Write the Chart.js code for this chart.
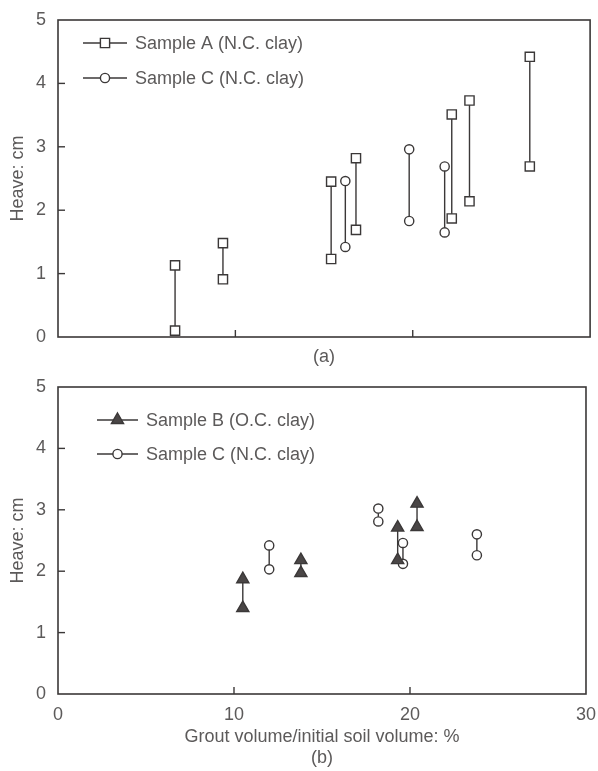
<!DOCTYPE html>
<html>
<head>
<meta charset="utf-8">
<script src="https://cdn.jsdelivr.net/npm/chart.js@4.4.1/dist/chart.umd.min.js"></script>
<style>
  body { margin: 0; background: #fff; }
  #wrap { position: relative; width: 598px; height: 771px; }
  .box { position: absolute; left: 0; width: 598px; }
</style>
</head>
<body>
<div id="wrap">
  <div class="box" style="top:0;height:375px"><canvas id="chartA"></canvas></div>
  <div class="box" style="top:367px;height:404px"><canvas id="chartB"></canvas></div>
</div>
<script>
"use strict";
// (a) heave range per test: upper and lower reading at each grout ratio
const aGrout = [6.6, 9.3, 15.4, 16.8, 22.2, 23.2, 26.6];
const aHigh = [1.13, 1.48, 2.45, 2.82, 3.51, 3.73, 4.42];
const aLow = [0.1, 0.91, 1.23, 1.69, 1.87, 2.14, 2.69];
const cGroutA = [16.2, 19.8, 21.8];
const cHighA = [2.46, 2.96, 2.69];
const cLowA = [1.42, 1.83, 1.65];
// (b)
const bGrout = [10.5, 13.8, 19.3, 20.4];
const bHigh = [1.87, 2.18, 2.71, 3.1];
const bLow = [1.4, 1.97, 2.18, 2.72];
const cGroutB = [12.0, 18.2, 19.6, 23.8];
const cHighB = [2.42, 3.02, 2.46, 2.6];
const cLowB = [2.03, 2.81, 2.12, 2.26];

const xTicks = [0, 10, 20, 30];
const yTicks = [0, 1, 2, 3, 4, 5];
const legendA = ["Sample A (N.C. clay)", "Sample C (N.C. clay)"];
const legendB = ["Sample B (O.C. clay)", "Sample C (N.C. clay)"];

const INK = "#3b3838";
const TEXT = "#5c5a5a";
const FONT = "'Liberation Sans', Arial, sans-serif";

const squareStyle = { pointStyle: "rect", pointRadius: 6.5, backgroundColor: "#fff" };
const circleStyle = { pointStyle: "circle", pointRadius: 4.6, backgroundColor: "#fff" };
const triangleStyle = { pointStyle: "triangle", pointRadius: 7, backgroundColor: "#4a4646" };

function pairSets(xs, hi, lo, style) {
    return xs.map((x, i) => ({
        data: [{ x: x, y: hi[i] }, { x: x, y: lo[i] }],
        showLine: true,
        borderColor: INK,
        borderWidth: 1.4,
        pointBorderWidth: 1.4,
        pointBorderColor: INK,
        ...style,
    }));
}

// frame, inward tick marks and the line+marker legend
const framePlugin = {
    id: "frame",
    afterDatasetsDraw(chart, args, opts) {
        const ctx = chart.ctx;
        const a = chart.chartArea;
        const xs = chart.scales.x, ys = chart.scales.y;
        ctx.save();
        ctx.strokeStyle = INK;
        ctx.lineWidth = 1.6;
        ctx.strokeRect(a.left, a.top, a.right - a.left, a.bottom - a.top);
        ctx.lineWidth = 1.4;
        yTicks.slice(1, -1).forEach((v) => {
            const y = ys.getPixelForValue(v);
            ctx.beginPath();
            ctx.moveTo(a.left, y);
            ctx.lineTo(a.left + 7, y);
            ctx.stroke();
        });
        xTicks.slice(1, -1).forEach((v) => {
            const x = xs.getPixelForValue(v);
            ctx.beginPath();
            ctx.moveTo(x, a.bottom);
            ctx.lineTo(x, a.bottom - 7);
            ctx.stroke();
        });
        // legend
        opts.items.forEach((item, i) => {
            const y = opts.y + i * opts.gap;
            ctx.strokeStyle = INK;
            ctx.lineWidth = 1.4;
            ctx.beginPath();
            ctx.moveTo(opts.x, y);
            ctx.lineTo(opts.x + opts.len, y);
            ctx.stroke();
            ctx.fillStyle = item.style.backgroundColor;
            Chart.helpers.drawPoint(ctx, {
                pointStyle: item.style.pointStyle,
                radius: item.style.pointRadius,
                borderWidth: 1.4,
                rotation: 0,
            }, opts.x + opts.len / 2, y);
            ctx.fillStyle = TEXT;
            ctx.font = "18px " + FONT;
            ctx.textBaseline = "middle";
            ctx.textAlign = "left";
            ctx.fillText(item.label, opts.x + opts.len + 8, y + 1);
        });
        ctx.restore();
    },
};

function makeOptions(xTitle, showXLabels, xHeight, padTop, legend, titleBottom) {
    return {
        responsive: true,
        maintainAspectRatio: false,
        animation: false,
        layout: { padding: { top: padTop, right: 7, left: 0, bottom: 0 } },
        plugins: { legend: { display: false }, tooltip: { enabled: false }, frame: legend },
        scales: {
            x: {
                type: "linear",
                min: 0,
                max: 30,
                grid: { display: false },
                border: { display: false },
                afterBuildTicks: (s) => { s.ticks = xTicks.map((v) => ({ value: v })); },
                ticks: { display: showXLabels, color: TEXT, font: { family: FONT, size: 18 }, padding: 2, maxRotation: 0 },
                title: {
                    display: true,
                    text: xTitle,
                    color: TEXT,
                    font: { family: FONT, size: 18 },
                    padding: { top: 0, bottom: titleBottom },
                },
                afterFit: (s) => { s.height = xHeight; },
            },
            y: {
                min: 0,
                max: 5,
                grid: { display: false },
                border: { display: false },
                afterBuildTicks: (s) => { s.ticks = yTicks.map((v) => ({ value: v })); },
                ticks: { color: TEXT, font: { family: FONT, size: 18 }, padding: 4 },
                title: {
                    display: true,
                    text: "Heave: cm",
                    color: TEXT,
                    font: { family: FONT, size: 18 },
                    padding: { top: 7, bottom: 0 },
                },
                afterFit: (s) => { s.width = 58; },
            },
        },
    };
}

new Chart(document.getElementById("chartA"), {
    type: "scatter",
    data: { datasets: [...pairSets(aGrout, aHigh, aLow, squareStyle), ...pairSets(cGroutA, cHighA, cLowA, circleStyle)] },
    options: makeOptions("(a)", false, 38, 20, {
        x: 83, y: 43, gap: 35, len: 44,
        items: [{ label: legendA[0], style: squareStyle }, { label: legendA[1], style: circleStyle }],
    }, 7),
    plugins: [framePlugin],
});

new Chart(document.getElementById("chartB"), {
    type: "scatter",
    data: { datasets: [...pairSets(bGrout, bHigh, bLow, triangleStyle), ...pairSets(cGroutB, cHighB, cLowB, circleStyle)] },
    options: makeOptions(["Grout volume/initial soil volume: %", "(b)"], true, 77, 20, {
        x: 97, y: 53, gap: 34, len: 41,
        items: [{ label: legendB[0], style: triangleStyle }, { label: legendB[1], style: circleStyle }],
    }, 2),
    plugins: [framePlugin],
});
</script>
</body>
</html>
